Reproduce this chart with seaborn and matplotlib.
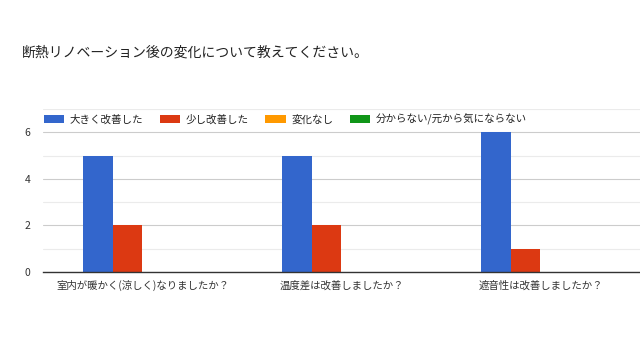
import matplotlib
matplotlib.use("Agg")
import matplotlib.pyplot as plt
import seaborn as sns
import pandas as pd

title = "断熱リノベーション後の変化について教えてください。"
questions = ["室内が暖かく(涼しく)なりましたか？", "温度差は改善しましたか？", "遮音性は改善しましたか？"]
answers = ["大きく改善した", "少し改善した", "変化なし", "分からない/元から気にならない"]
counts_big = [5, 5, 6]
counts_small = [2, 2, 1]
counts_none = [0, 0, 0]
counts_unknown = [0, 0, 0]
colors = ["#3366CC", "#DC3912", "#FF9900", "#109618"]

rows = []
for ans, vals in zip(answers, [counts_big, counts_small, counts_none, counts_unknown]):
    for q, v in zip(questions, vals):
        rows.append({"question": q, "answer": ans, "count": v})
df = pd.DataFrame(rows)

sns.set_theme(style="white")
plt.rcParams["font.family"] = ["Noto Sans CJK JP", "DejaVu Sans"]

fig = plt.figure(figsize=(6.4, 3.6), dpi=100)
ax = fig.add_axes([0.067, 0.2444, 0.933, 0.4528])

sns.barplot(data=df, x="question", y="count", hue="answer", hue_order=answers,
            palette=colors, width=0.6, ax=ax, saturation=1, edgecolor="none",
            legend=True)

ax.set_ylim(0, 7)
ax.set_yticks([0, 2, 4, 6])
ax.set_yticks([1, 3, 5, 7], minor=True)
ax.grid(axis="y", which="major", color="#cccccc", linewidth=0.8)
ax.grid(axis="y", which="minor", color="#ebebeb", linewidth=0.8)
ax.set_axisbelow(True)
for s in ["top", "right", "left"]:
    ax.spines[s].set_visible(False)
ax.spines["bottom"].set_color("#333333")
ax.spines["bottom"].set_linewidth(1.0)
ax.tick_params(axis="both", length=0, labelsize=7.5, colors="#333333")
ax.tick_params(axis="y", pad=9)
ax.tick_params(axis="x", pad=6)
ax.tick_params(axis="y", which="minor", length=0)
ax.set_xlabel("")
ax.set_ylabel("")

handles, labels = ax.get_legend_handles_labels()
ax.get_legend().remove()
fig.legend(handles, labels, loc="center left", bbox_to_anchor=(0.0688, 0.669),
           ncol=4, frameon=False, fontsize=7.55, handlelength=1.95, handleheight=0.8,
           columnspacing=1.6, handletextpad=0.5, borderpad=0, borderaxespad=0,
           labelcolor="#222222")

fig.text(0.034, 0.855, title, fontsize=10, color="#222222", va="center")

fig.savefig("out.png", dpi=100)
